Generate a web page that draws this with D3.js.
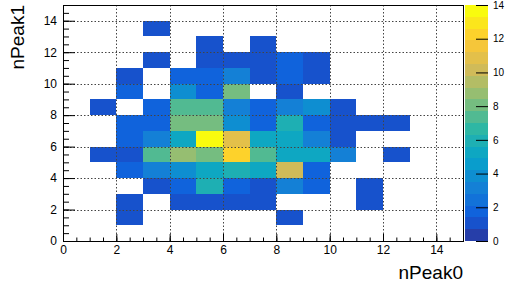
<!DOCTYPE html>
<html>
<head>
<meta charset="utf-8">
<script src="https://cdn.jsdelivr.net/npm/d3@7"></script>
<style>
    body { margin:0; background:#fff; }
    text { font-family:"Liberation Sans", Arial, Helvetica, sans-serif; }
</style>
</head>
<body>
<svg id="chart" width="515" height="284"></svg>
<script>
// bin edges of both axes (15 bins of width 1, 0..15)
var xEdges = d3.range(0, 16);
var yEdges = d3.range(0, 16);
var xTicks = [0, 2, 4, 6, 8, 10, 12, 14];
var yTicks = [0, 2, 4, 6, 8, 10, 12, 14];
var zTicks = [0, 2, 4, 6, 8, 10, 12, 14];

// counts per nPeak1 bin (row), one value per nPeak0 bin
var row0  = [0,0,0,0,0,0,0,0,0,0,0,0,0,0,0];
var row1  = [0,0,1,0,0,0,0,0,1,0,0,0,0,0,0];
var row2  = [0,0,1,0,1,1,1,1,0,0,0,1,0,0,0];
var row3  = [0,0,0,1,2,6,2,1,3,2,0,1,0,0,0];
var row4  = [0,0,2,3,4,5,6,5,10,2,0,0,0,0,0];
var row5  = [0,1,1,7,9,8,12,7,5,5,3,0,1,0,0];
var row6  = [0,0,2,3,5,14,11,5,5,3,1,0,0,0,0];
var row7  = [0,0,2,2,8,8,4,2,6,2,1,1,1,0,0];
var row8  = [0,1,0,2,7,7,3,2,3,4,1,0,0,0,0];
var row9  = [0,0,2,0,4,2,8,0,1,0,0,0,0,0,0];
var row10 = [0,0,1,0,2,2,3,1,2,1,0,0,0,0,0];
var row11 = [0,0,0,1,0,1,1,1,2,1,0,0,0,0,0];
var row12 = [0,0,0,0,0,1,0,1,0,0,0,0,0,0,0];
var row13 = [0,0,0,1,0,0,0,0,0,0,0,0,0,0,0];
var row14 = [0,0,0,0,0,0,0,0,0,0,0,0,0,0,0];
var rows = [row0,row1,row2,row3,row4,row5,row6,row7,row8,row9,row10,row11,row12,row13,row14];

var zMin = 0, zMax = 14, nContours = 20;

// ROOT kBird palette
var birdStops = [0.0, 0.125, 0.25, 0.375, 0.5, 0.625, 0.75, 0.875, 1.0];
var birdR = [0.2082, 0.0592, 0.0780, 0.0232, 0.1802, 0.5301, 0.8186, 0.9956, 0.9764];
var birdG = [0.1664, 0.3599, 0.5041, 0.6419, 0.7178, 0.7492, 0.7328, 0.7862, 0.9832];
var birdB = [0.5293, 0.8684, 0.8385, 0.7914, 0.6425, 0.4662, 0.3499, 0.1968, 0.0539];
var birdCols = birdStops.map(function(s, i) {
    return d3.rgb(birdR[i]*255, birdG[i]*255, birdB[i]*255);
});
var bird = d3.scaleLinear().domain(birdStops).range(birdCols).interpolate(d3.interpolateRgb);
var levelCols = d3.range(nContours).map(function(k) { return bird(Math.min(1, (k + 0.99) / nContours)); });

function colorOf(z) {
    var k = Math.floor(0.01 + (z - zMin) * nContours / (zMax - zMin));
    if (k > nContours - 1) k = nContours - 1;
    return levelCols[k];
}

var svg = d3.select("#chart");
var x = d3.scaleLinear().domain([0, 15]).range([63, 463]);
var y = d3.scaleLinear().domain([0, 15]).range([241, 5]);
var z = d3.scaleLinear().domain([zMin, zMax]).range([241, 5]);

// cells
var cells = [];
rows.forEach(function(r, j) {
    r.forEach(function(v, i) {
        if (v > 0) cells.push({i: i, j: j, v: v});
    });
});
svg.append("g").selectAll("rect").data(cells).enter().append("rect")
    .attr("x", function(d) { return x(xEdges[d.i]); })
    .attr("y", function(d) { return y(yEdges[d.j + 1]); })
    .attr("width", function(d) { return x(xEdges[d.i + 1]) - x(xEdges[d.i]); })
    .attr("height", function(d) { return y(yEdges[d.j]) - y(yEdges[d.j + 1]); })
    .attr("fill", function(d) { return colorOf(d.v); })
    .attr("shape-rendering", "crispEdges");

// dotted grid
var grid = svg.append("g").attr("stroke", "#444").attr("stroke-width", 1).attr("stroke-dasharray", "1.5,2");
grid.selectAll(".gx").data(xTicks.slice(1)).enter().append("line")
    .attr("x1", function(d) { return Math.round(x(d)) + 0.5; })
    .attr("x2", function(d) { return Math.round(x(d)) + 0.5; })
    .attr("y1", 5).attr("y2", 241);
grid.selectAll(".gy").data(yTicks.slice(1)).enter().append("line")
    .attr("y1", function(d) { return Math.round(y(d)) + 0.5; })
    .attr("y2", function(d) { return Math.round(y(d)) + 0.5; })
    .attr("x1", 63).attr("x2", 463);

// axes
function styleAxis(g, size) {
    g.select(".domain").remove();
    g.selectAll("text").attr("font-size", size).attr("fill", "#000")
        .attr("font-family", "'Liberation Sans', Arial, sans-serif");
    g.selectAll("line").attr("stroke", "#000");
}
var minorX = d3.range(0, 15.01, 0.5);
svg.append("g").attr("transform", "translate(0,241)")
    .call(d3.axisBottom(x).tickValues(minorX).tickSizeInner(-3.5).tickSizeOuter(0).tickFormat(""))
    .call(styleAxis, 12);
svg.append("g").attr("transform", "translate(0,241)")
    .call(d3.axisBottom(x).tickValues(xTicks).tickSizeInner(-7).tickSizeOuter(0).tickPadding(4))
    .call(styleAxis, 12);
svg.append("g").attr("transform", "translate(63,0)")
    .call(d3.axisLeft(y).tickValues(minorX).tickSizeInner(-6).tickSizeOuter(0).tickFormat(""))
    .call(styleAxis, 12);
svg.append("g").attr("transform", "translate(63,0)")
    .call(d3.axisLeft(y).tickValues(yTicks).tickSizeInner(-12).tickSizeOuter(0).tickPadding(6))
    .call(styleAxis, 12);

// frame
svg.append("rect").attr("x", 63.5).attr("y", 5.5).attr("width", 400).attr("height", 236)
    .attr("fill", "none").attr("stroke", "#000").attr("stroke-width", 1);

// palette
var bandH = (zMax - zMin) / nContours;
svg.append("g").selectAll("rect").data(levelCols).enter().append("rect")
    .attr("x", 465).attr("width", 23)
    .attr("y", function(d, k) { return z(zMin + (k + 1) * bandH); })
    .attr("height", function(d, k) { return z(zMin + k * bandH) - z(zMin + (k + 1) * bandH); })
    .attr("fill", function(d) { return d; })
    .attr("shape-rendering", "crispEdges");
svg.append("g").attr("transform", "translate(488,0)")
    .call(d3.axisRight(z).tickValues(zTicks).tickSizeInner(-12).tickSizeOuter(0).tickPadding(5))
    .call(styleAxis, 10);

// axis titles
svg.append("text").attr("x", 463).attr("y", 279).attr("text-anchor", "end")
    .attr("font-size", 19).text("nPeak0");
svg.append("text").attr("transform", "translate(24,5) rotate(-90)").attr("text-anchor", "end")
    .attr("font-size", 19).text("nPeak1");
</script>
</body>
</html>
